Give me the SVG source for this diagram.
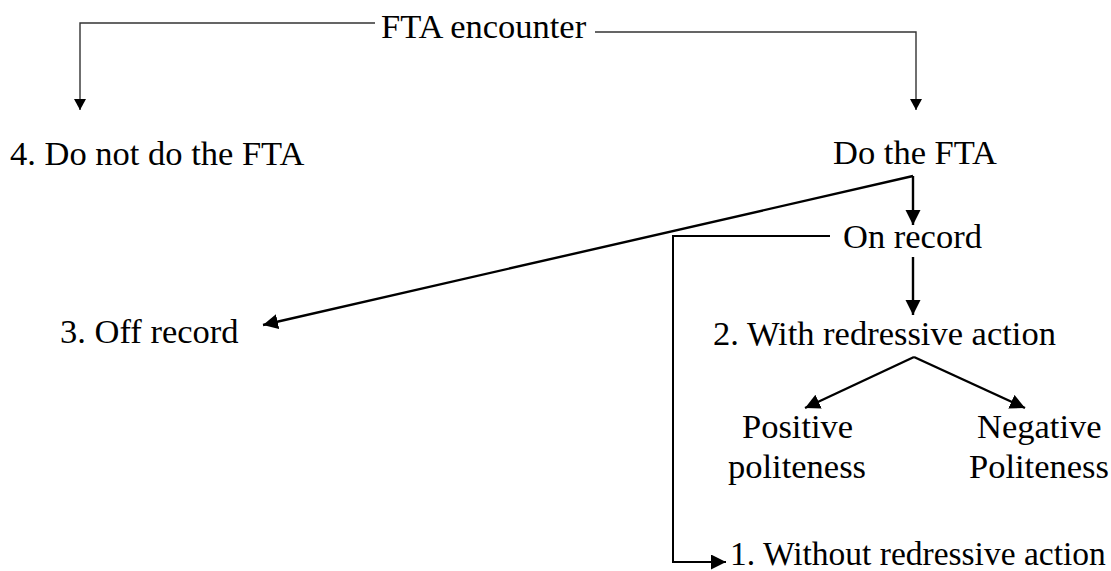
<svg xmlns="http://www.w3.org/2000/svg" width="1111" height="571" viewBox="0 0 1111 571">
<style>
text{font-family:'Liberation Serif','Times New Roman','DejaVu Serif',serif;font-size:34.5px;fill:#000}
.thin{fill:none;stroke:#333;stroke-width:1.4}
.thick{fill:none;stroke:#000;stroke-width:2.4}
.mid{fill:none;stroke:#000;stroke-width:2}
</style>
<defs>
<marker id="sa" markerUnits="userSpaceOnUse" markerWidth="14" markerHeight="12" refX="11" refY="6" orient="auto">
<path d="M0,0 L11,6 L0,12 Z" fill="#000"/>
</marker>
<marker id="la" markerUnits="userSpaceOnUse" markerWidth="16" markerHeight="16" refX="15" refY="7.5" orient="auto">
<path d="M0,0 L15,7.5 L0,15 Z" fill="#000"/>
</marker>
</defs>
<rect width="1111" height="571" fill="#fff"/>
<g id="connectors">
<polyline class="thin" points="375,23 80,23 80,110" marker-end="url(#sa)"/>
<polyline class="thin" points="595,32 916,32 916,110" marker-end="url(#sa)"/>
<line class="thick" x1="913" y1="176" x2="263" y2="325" marker-end="url(#la)"/>
<polyline class="thick" points="913,176 913,225" marker-end="url(#la)"/>
<polyline class="mid" points="830,236 673,236 673,562 726,562" marker-end="url(#la)"/>
<line class="thick" x1="913" y1="257" x2="913" y2="315" marker-end="url(#la)"/>
<line class="thick" x1="914" y1="357" x2="805" y2="408" marker-end="url(#la)"/>
<line class="thick" x1="914" y1="357" x2="1025" y2="408" marker-end="url(#la)"/>
</g>
<g id="fta-encounter"><text x="381" y="38" font-family="Liberation Serif">FTA encounter</text></g>
<g id="do-not-do"><text x="10" y="165" font-family="Liberation Serif">4. Do not do the FTA</text></g>
<g id="do-the-fta"><text x="833" y="164" font-family="Liberation Serif">Do the FTA</text></g>
<g id="on-record"><text x="843" y="248" font-family="Liberation Serif">On record</text></g>
<g id="off-record"><text x="60" y="343" font-family="Liberation Serif">3. Off record</text></g>
<g id="with-redressive"><text x="713" y="345" font-family="Liberation Serif">2. With redressive action</text></g>
<g id="positive"><text x="742" y="438" font-family="Liberation Serif">Positive</text><text x="728" y="478" font-family="Liberation Serif">politeness</text></g>
<g id="negative"><text x="977" y="438" font-family="Liberation Serif">Negative</text><text x="969" y="478" font-family="Liberation Serif">Politeness</text></g>
<g id="without-redressive"><text x="730" y="565" style="font-size:33.5px" font-family="Liberation Serif">1. Without redressive action</text></g>
</svg>
